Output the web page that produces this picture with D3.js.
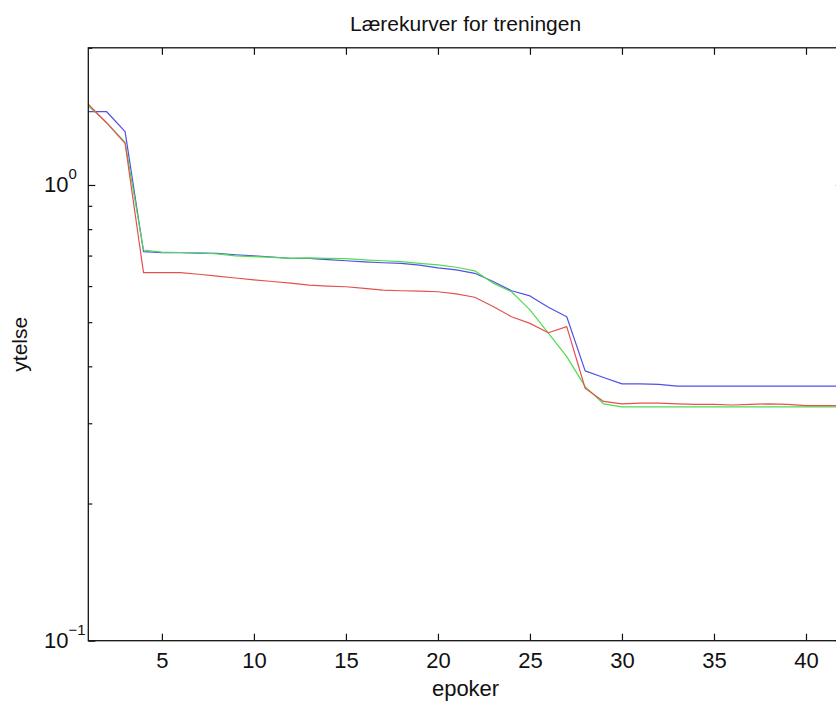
<!DOCTYPE html>
<html>
<head>
<meta charset="utf-8">
<script src="https://cdn.jsdelivr.net/npm/d3@7"></script>
<style>
  html, body { margin: 0; padding: 0; background: #fff; }
  svg { display: block; }
  text { font-family: "Liberation Sans", Arial, Helvetica, sans-serif; fill: #111; }
</style>
</head>
<body>
<svg id="chart" width="836" height="702"></svg>
<script>
// ---- data ----
const epochs = d3.range(1, 43);
const blueSeries = [1.448, 1.448, 1.309, 0.714, 0.710, 0.710, 0.709, 0.708, 0.703, 0.699,
  0.695, 0.690, 0.690, 0.686, 0.682, 0.678, 0.675, 0.673, 0.667, 0.658,
  0.651, 0.640, 0.614, 0.586, 0.571, 0.539, 0.514, 0.391, 0.378, 0.366,
  0.366, 0.365, 0.362, 0.362, 0.362, 0.362, 0.362, 0.362, 0.362, 0.362,
  0.362, 0.362];
const greenSeries = [1.49, 1.37, 1.24, 0.720, 0.712, 0.711, 0.710, 0.706, 0.699, 0.696,
  0.694, 0.690, 0.692, 0.690, 0.689, 0.685, 0.682, 0.679, 0.673, 0.668,
  0.660, 0.648, 0.609, 0.583, 0.532, 0.473, 0.420, 0.361, 0.331, 0.326,
  0.326, 0.326, 0.326, 0.326, 0.326, 0.326, 0.326, 0.326, 0.326, 0.326,
  0.326, 0.326];
const redSeries = [1.505, 1.368, 1.234, 0.642, 0.642, 0.642, 0.637, 0.631, 0.625, 0.619,
  0.614, 0.609, 0.603, 0.600, 0.598, 0.593, 0.588, 0.586, 0.585, 0.583,
  0.577, 0.567, 0.541, 0.514, 0.497, 0.474, 0.489, 0.358, 0.335, 0.331,
  0.332, 0.332, 0.331, 0.330, 0.330, 0.329, 0.330, 0.331, 0.330, 0.328,
  0.328, 0.328];
const xTicks = [5, 10, 15, 20, 25, 30, 35, 40];
const yMajorTicks = [0.1, 1];
const yMajorExponents = ["\u22121", "0"];
const yMinorTicks = [0.2, 0.3, 0.4, 0.5, 0.6, 0.7, 0.8, 0.9, 2];
const titleText = "Lærekurver for treningen";
const xLabelText = "epoker";
const yLabelText = "ytelse";

// ---- layout ----
const svg = d3.select("#chart");
const mLeft = 88.3, mRight = 842.8, mTop = 47.8, mBottom = 640.7;

const x = d3.scaleLinear().domain([1, 42]).range([mLeft, mRight]);
const y = d3.scaleLog().domain([0.1, 2]).range([mBottom, mTop]);

svg.append("clipPath").attr("id", "clip")
  .append("rect").attr("x", mLeft).attr("y", mTop).attr("width", mRight - mLeft).attr("height", mBottom - mTop);

const line = d3.line().x((d, i) => x(epochs[i])).y(d => y(d));
const series = [
  { values: blueSeries, color: "#5050e6" },
  { values: greenSeries, color: "#4fdc4f" },
  { values: redSeries, color: "#e65050" }
];
const gLines = svg.append("g").attr("clip-path", "url(#clip)");
series.forEach(s => {
  gLines.append("path").datum(s.values)
    .attr("fill", "none").attr("stroke", s.color).attr("stroke-width", 1.2)
    .attr("stroke-linejoin", "round").attr("d", line);
});

// bottom axis (ticks inward)
const gx = svg.append("g").attr("transform", `translate(0,${mBottom})`)
  .call(d3.axisBottom(x).tickValues(xTicks).tickSizeInner(-7).tickSizeOuter(0).tickPadding(12));
gx.select(".domain").remove();
gx.selectAll(".tick line").attr("stroke", "#111").attr("stroke-width", 1.2);
gx.selectAll(".tick text").style("font-size", "22px").attr("fill", "#111");

// top axis mirror ticks
const gxt = svg.append("g").attr("transform", `translate(0,${mTop})`)
  .call(d3.axisBottom(x).tickValues(xTicks).tickSizeInner(7).tickSizeOuter(0).tickFormat(""));
gxt.select(".domain").remove();
gxt.selectAll(".tick line").attr("stroke", "#111").attr("stroke-width", 1.2);

// left axis major + minor ticks (inward)
const gyMaj = svg.append("g").attr("transform", `translate(${mLeft},0)`)
  .call(d3.axisRight(y).tickValues(yMajorTicks).tickSizeInner(7).tickSizeOuter(0).tickFormat(""));
const gyMin = svg.append("g").attr("transform", `translate(${mLeft},0)`)
  .call(d3.axisRight(y).tickValues(yMinorTicks).tickSizeInner(4).tickSizeOuter(0).tickFormat(""));
// right axis mirror ticks
const gyMajR = svg.append("g").attr("transform", `translate(${mRight},0)`)
  .call(d3.axisLeft(y).tickValues(yMajorTicks).tickSizeInner(7).tickSizeOuter(0).tickFormat(""));
const gyMinR = svg.append("g").attr("transform", `translate(${mRight},0)`)
  .call(d3.axisLeft(y).tickValues(yMinorTicks).tickSizeInner(4).tickSizeOuter(0).tickFormat(""));
[gyMaj, gyMin, gyMajR, gyMinR].forEach(g => {
  g.select(".domain").remove();
  g.selectAll(".tick line").attr("stroke", "#111").attr("stroke-width", 1.2);
});

// y tick labels 10^n
yMajorTicks.forEach((v, i) => {
  const t = svg.append("text").attr("x", 44).attr("y", y(v) + 7.5).style("font-size", "22px");
  t.append("tspan").text("10");
  t.append("tspan").attr("dy", -13).style("font-size", "15px").text(yMajorExponents[i]);
});

// frame
svg.append("rect").attr("x", mLeft).attr("y", mTop)
  .attr("width", mRight - mLeft).attr("height", mBottom - mTop)
  .attr("fill", "none").attr("stroke", "#111").attr("stroke-width", 1.3);

// title & labels
svg.append("text").attr("x", (mLeft + mRight) / 2).attr("y", 31)
  .attr("text-anchor", "middle").style("font-size", "21px").text(titleText);
svg.append("text").attr("x", (mLeft + mRight) / 2).attr("y", 696)
  .attr("text-anchor", "middle").style("font-size", "22px").text(xLabelText);
svg.append("text").attr("transform", `translate(27,${(mTop + mBottom) / 2}) rotate(-90)`)
  .attr("text-anchor", "middle").style("font-size", "21px").text(yLabelText);
</script>
</body>
</html>
